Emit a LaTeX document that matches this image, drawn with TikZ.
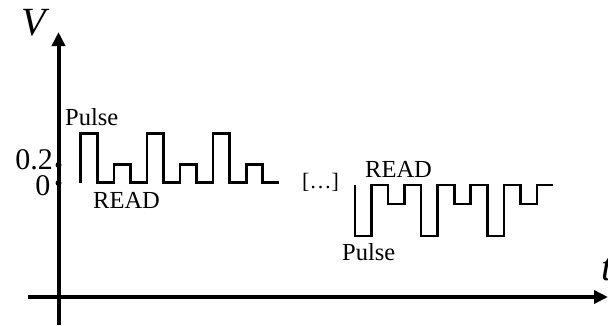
\documentclass[tikz,border=0pt]{standalone}
\usepackage{fontspec}
\setmainfont{Liberation Serif}
\usetikzlibrary{arrows.meta}
\begin{document}
\begin{tikzpicture}[x=1pt,y=-1pt,
  axis/.style={line width=4pt,-{Triangle[length=14pt,width=13pt]}},
  wave/.style={line width=2.6pt,line join=miter},
  lbl/.style={inner sep=0pt,anchor=base west,font=\fontsize{24.5}{28}\selectfont},
  numlbl/.style={inner sep=0pt,anchor=base east,font=\fontsize{30}{34}\selectfont},
  varlbl/.style={inner sep=0pt,anchor=base west,font=\fontsize{40}{44}\selectfont\itshape},
  tick/.style={circle,fill=black,inner sep=0pt,minimum size=6pt}]
\useasboundingbox (0,0) rectangle (608,325);

% axes
\coordinate (ybot) at (58.5,325);
\coordinate (ytop) at (58.5,32);
\coordinate (xleft) at (28,297);
\coordinate (xright) at (608,297);
\draw[axis] (ybot) -- (ytop);
\draw[axis] (xleft) -- (xright);
\node[varlbl] (V) at (21,35) {V};
\node[varlbl] (t) at (601,280) {t};

% level marks on the voltage axis
\node[tick] (d02) at (58.5,165) {};
\node[tick] (d0) at (58.5,183) {};
\node[numlbl] (n02) at (53,169) {0.2};
\node[numlbl] (n0) at (50.5,195) {0};

% first train: pulse / read / pulse ...
\draw[wave] (80.7,182.7) -- (80.7,133.3) -- (97.25,133.3) -- (97.25,182.7)
  -- (113.8,182.7) -- (113.8,164.3) -- (130.35,164.3) -- (130.35,182.7)
  -- (146.9,182.7) -- (146.9,133.3) -- (163.45,133.3) -- (163.45,182.7)
  -- (180.0,182.7) -- (180.0,164.3) -- (196.55,164.3) -- (196.55,182.7)
  -- (213.1,182.7) -- (213.1,133.3) -- (229.65,133.3) -- (229.65,182.7)
  -- (246.2,182.7) -- (246.2,164.3) -- (262.75,164.3) -- (262.75,182.7)
  -- (279.3,182.7);
\node[lbl] (pulse1) at (65,125) {Pulse};
\node[lbl] (read1) at (93,208) {READ};

\node[lbl,font=\fontsize{22}{26}\selectfont] (dots) at (302,188) {[\dots]};

% second train: inverted pulses
\draw[wave] (355,185) -- (355,236) -- (371.5,236) -- (371.5,185)
  -- (388.1,185) -- (388.1,204) -- (404.6,204) -- (404.6,185)
  -- (421.1,185) -- (421.1,236) -- (437.7,236) -- (437.7,185)
  -- (454.2,185) -- (454.2,204) -- (470.7,204) -- (470.7,185)
  -- (487.2,185) -- (487.2,236) -- (503.8,236) -- (503.8,185)
  -- (520.3,185) -- (520.3,204) -- (536.8,204) -- (536.8,185)
  -- (553.4,185);
\node[lbl] (read2) at (365,177) {READ};
\node[lbl] (pulse2) at (342,260) {Pulse};
\end{tikzpicture}
\end{document}
